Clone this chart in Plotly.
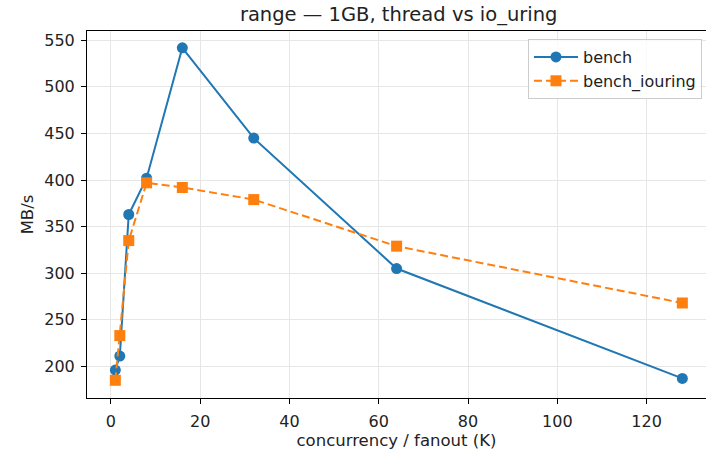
import plotly.graph_objects as go

concurrency = [1, 2, 4, 8, 16, 32, 64, 128]
bench = [196, 211, 363, 402, 542, 445, 305, 187]
bench_iouring = [185, 233, 335, 397, 392, 379, 329, 268]

x_ticks = [0, 20, 40, 60, 80, 100, 120]
y_ticks = [200, 250, 300, 350, 400, 450, 500, 550]

BLUE = "#1f77b4"
ORANGE = "#ff7f0e"
FONT = "DejaVu Sans"

fig = go.Figure()
fig.add_trace(go.Scatter(
    x=concurrency, y=bench, name="bench", mode="lines+markers",
    line=dict(color=BLUE, width=2),
    marker=dict(symbol="circle", size=11, color=BLUE),
))
fig.add_trace(go.Scatter(
    x=concurrency, y=bench_iouring, name="bench_iouring", mode="lines+markers",
    line=dict(color=ORANGE, width=2, dash="8px,4px"),
    marker=dict(symbol="square", size=11, color=ORANGE),
))

fig.update_layout(
    width=706, height=455,
    margin=dict(l=87, r=0, t=31, b=57, autoexpand=False),
    paper_bgcolor="white", plot_bgcolor="white",
    font=dict(family=FONT, size=16, color="#222"),
    title=dict(text="range — 1GB, thread vs io_uring", x=0.5647, xanchor="center",
               y=1 - 14 / 455, yanchor="middle", font=dict(size=19.5, family=FONT, color="#222")),
    legend=dict(x=0.9935, y=0.978, xanchor="right", yanchor="top",
                bgcolor="rgba(255,255,255,0.8)", bordercolor="#cccccc", borderwidth=1,
                font=dict(size=16, family=FONT), itemwidth=44),
    showlegend=True,
)
fig.update_xaxes(
    range=[-5.35, 133.3], tickvals=x_ticks, ticktext=[str(v) for v in x_ticks],
    showgrid=True, gridcolor="#e6e6e6", gridwidth=1, zeroline=False,
    showline=True, linecolor="black", linewidth=1, mirror=True,
    ticks="outside", ticklen=5, tickcolor="black", automargin=False,
    tickfont=dict(size=16), ticklabelstandoff=4,
    title=dict(text="concurrency / fanout (K)", font=dict(size=16.5, family=FONT), standoff=4),
)
fig.update_yaxes(
    range=[166, 560], tickvals=y_ticks, ticktext=[str(v) for v in y_ticks],
    showgrid=True, gridcolor="#e6e6e6", gridwidth=1, zeroline=False,
    showline=True, linecolor="black", linewidth=1,
    ticks="outside", ticklen=5, tickcolor="black", automargin=False,
    tickfont=dict(size=16), ticklabelstandoff=3,
    title=dict(text="MB/s", font=dict(size=16.5, family=FONT), standoff=6),
)

fig.write_html("out.html", config={"displayModeBar": False},
               post_script="document.body.style.margin='0';document.body.style.overflow='hidden';")
